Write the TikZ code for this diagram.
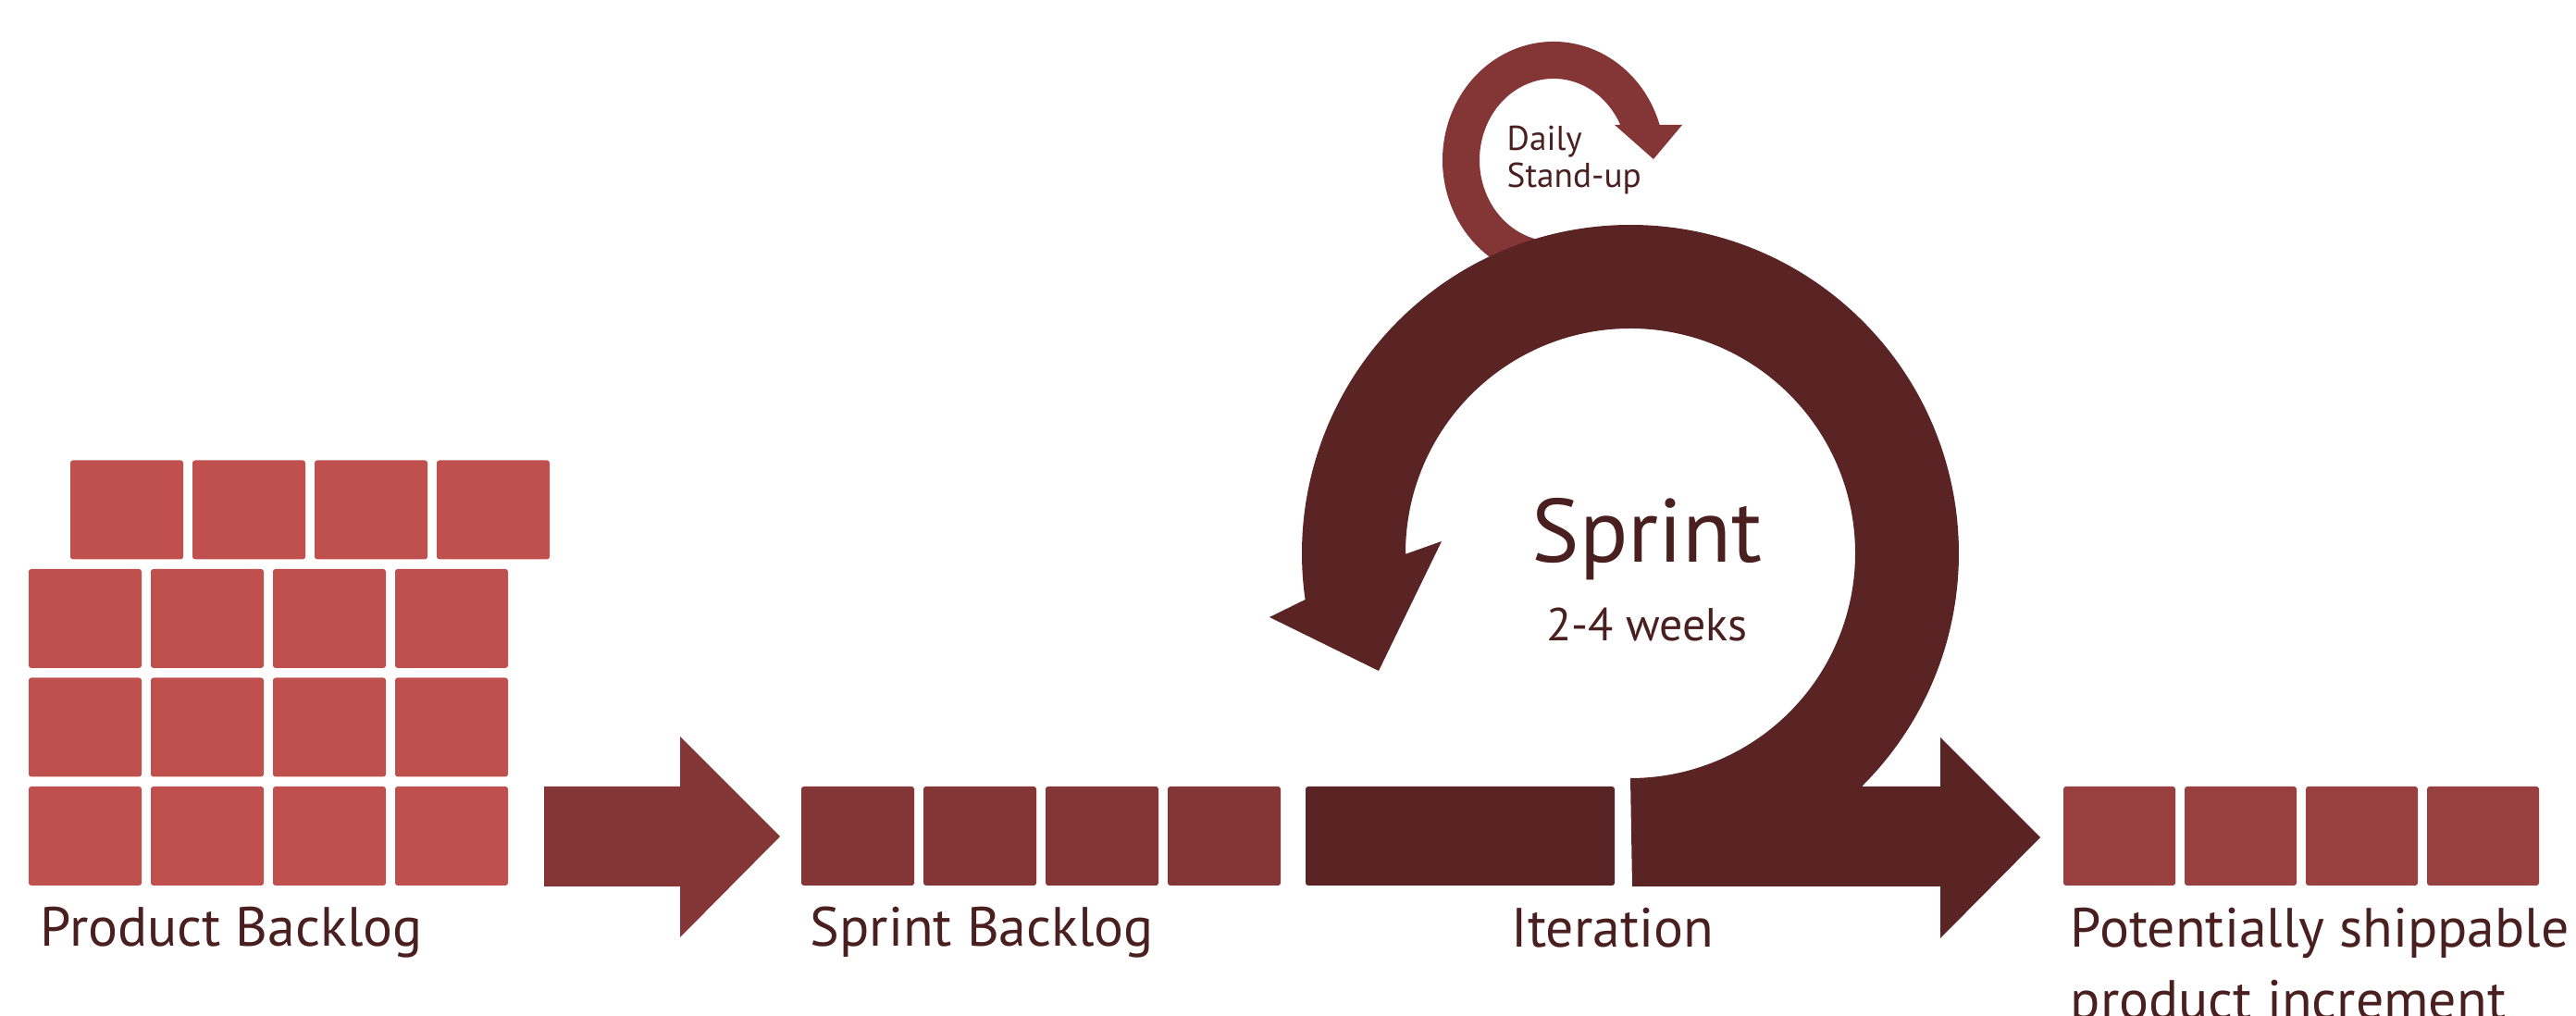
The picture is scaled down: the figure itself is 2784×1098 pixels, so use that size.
\documentclass[tikz,border=0pt]{standalone}
\usepackage{fontspec}
\setmainfont{PT Sans}

\definecolor{backlogred}{RGB}{192,80,77}
\definecolor{sprintred}{RGB}{132,54,54}
\definecolor{shipred}{RGB}{152,64,64}
\definecolor{iterdark}{RGB}{90,36,36}
\definecolor{txtdark}{RGB}{74,31,31}

\tikzset{
  tile/.style={rounded corners=0.8pt},
  txt/.style={text=txtdark, inner sep=0pt, font=\fontsize{17}{20}\selectfont},
  bigtxt/.style={txt, font=\fontsize{27.6}{32}\selectfont},
  midtxt/.style={txt, font=\fontsize{14.2}{17}\selectfont},
  smalltxt/.style={txt, font=\fontsize{10.6}{13}\selectfont},
}

\begin{document}
\begin{tikzpicture}[x=0.01cm, y=0.01cm]
    \useasboundingbox (0,0) rectangle (2784,1098);
    \clip (0,0) rectangle (2784,1098);

    % Product Backlog のタイル
    \foreach \y in {141, 258.5, 376}
        \foreach \x in {31, 163, 295, 427}
            \fill[tile, backlogred] (\x,\y) rectangle ++(122,107);
    \foreach \x in {76, 208, 340, 472}
        \fill[tile, backlogred] (\x,493.5) rectangle ++(122,107);

    % 最初の矢印
    \fill[sprintred] (588,140) -- (735,140) -- (735,85) -- (843,194) -- (735,302) -- (735,248) -- (588,248) -- cycle;

    % Sprint Backlog のタイル
    \foreach \x in {866, 998, 1130, 1262}
        \fill[tile, sprintred] (\x,141) rectangle ++(122,107);

    % Iteration の帯
    \fill[tile, iterdark] (1411,141) rectangle (1745,248);

    % Daily Stand-up の矢印
    \begin{scope}[shift={(1679,925)}]
        \fill[sprintred] (260:120 and 128) arc[start angle=260, end angle=17.27, x radius=120, y radius=128]
            -- (139,38) -- (108,1) -- (66,38)
            -- (25.58:80 and 88) arc[start angle=25.58, end angle=260, x radius=80, y radius=88] -- cycle;
    \end{scope}

    % Sprint の大きな矢印
    \begin{scope}[shift={(1762,500)}]
        \fill[iterdark] (2,-360) -- (335,-360) -- (335,-416) -- (443,-307) -- (335,-199) -- (335,-252)
            -- (-45.2:355) arc[start angle=-45.2, end angle=188.1, radius=355]
            -- (-390,-69) -- (-272,-127) -- (-204,13)
            -- (180.2:243) arc[start angle=180.2, end angle=-90, radius=243] -- cycle;
    \end{scope}

    % Potentially shippable のタイル
    \foreach \x in {2230, 2361, 2492, 2623}
        \fill[tile, shipred] (\x,141) rectangle ++(121,107);

    % ラベル
    \node[txt, anchor=base west] (pbl) at (43,75) {Product Backlog};
    \node[txt, anchor=base west] (sbl) at (875,75) {Sprint Backlog};
    \node[txt, anchor=base] (iter) at (1743,74) {Iteration};
    \node[txt, anchor=base west] (pot1) at (2237,74) {Potentially shippable};
    \node[txt, anchor=base west] (pot2) at ([yshift=-0.77cm]pot1.base west) {product increment};
    \node[bigtxt, anchor=base] (sprint) at (1780,490) {Sprint};
    \node[midtxt, anchor=base] (weeks) at ([yshift=-0.84cm]sprint.base) {2-4 weeks};
    \node[smalltxt, anchor=base west] (daily) at (1628,935) {Daily};
    \node[smalltxt, anchor=base west] (standup) at ([yshift=-0.40cm]daily.base west) {Stand-up};

\end{tikzpicture}
\end{document}
